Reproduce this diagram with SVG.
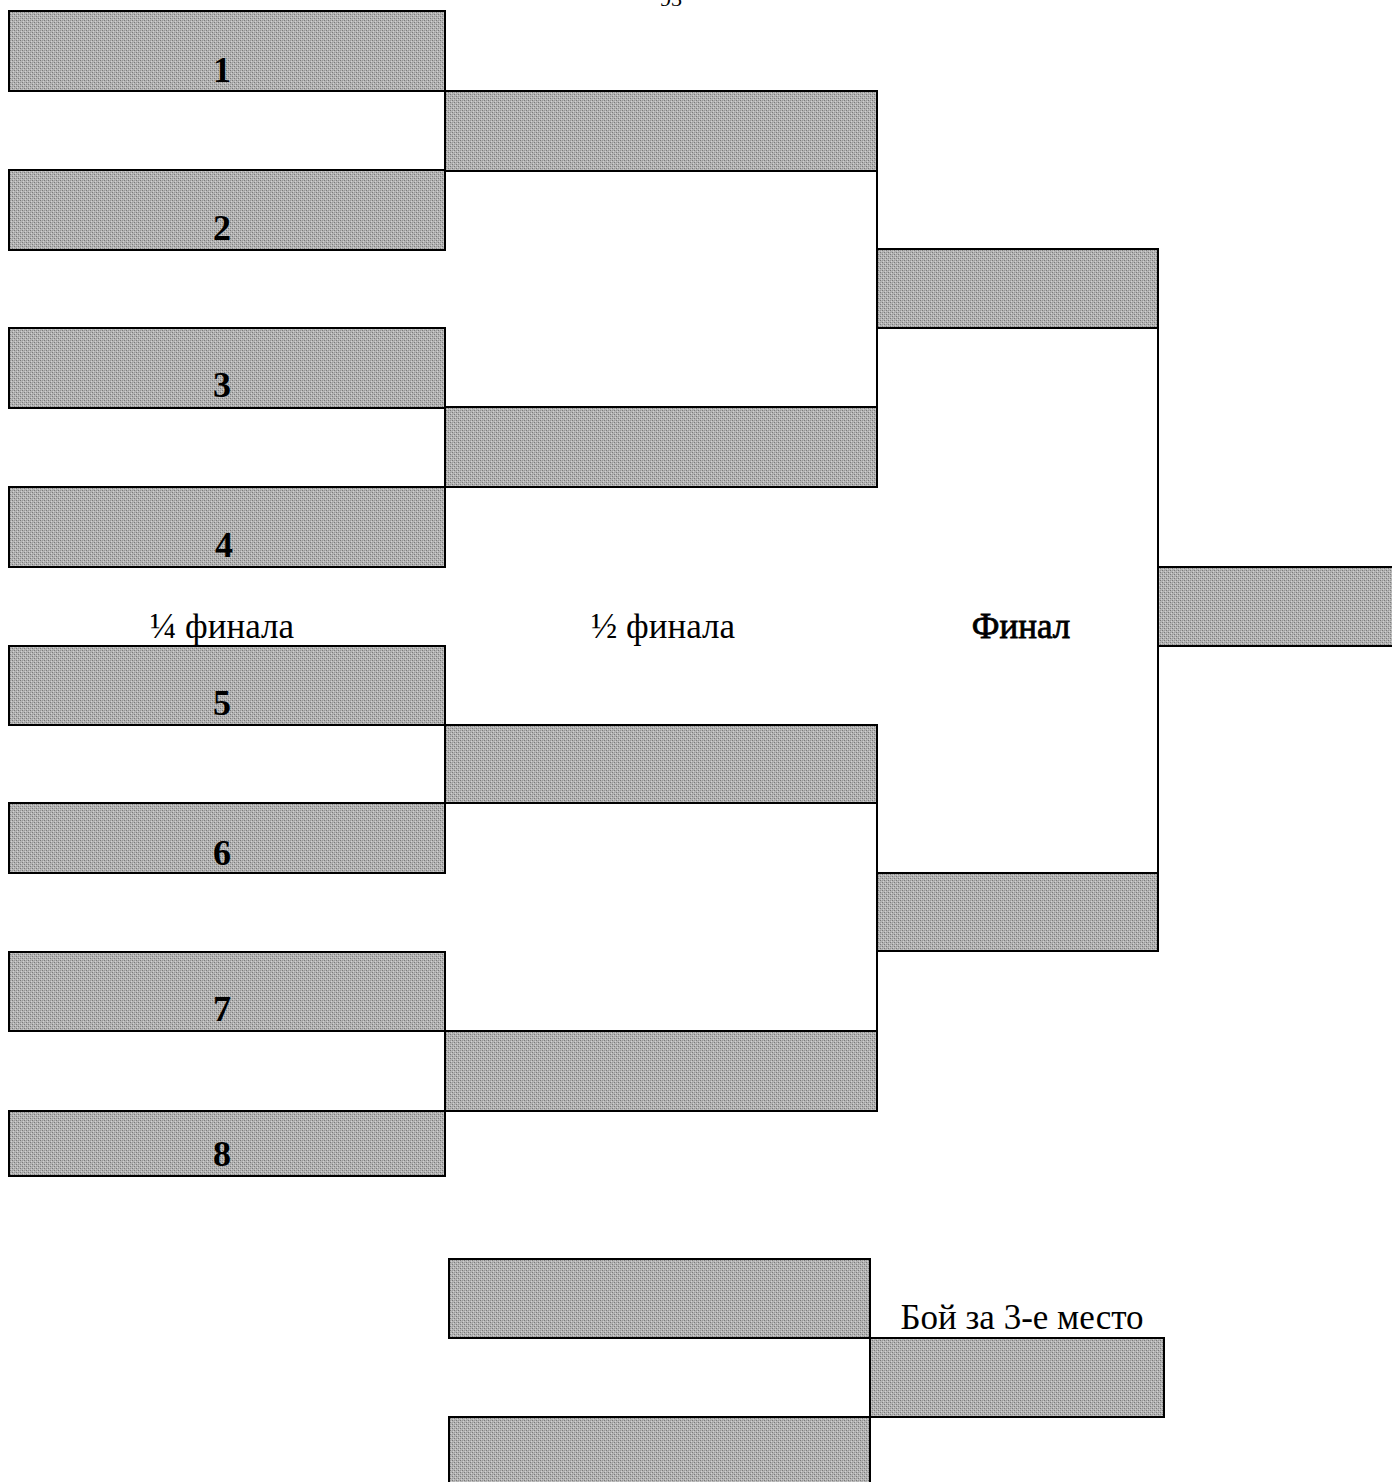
<svg xmlns="http://www.w3.org/2000/svg" width="1392" height="1482" viewBox="0 0 1392 1482">
<style>
.b{fill:url(#tex);stroke:#000;stroke-width:2}
.c{stroke:#000;stroke-width:2;fill:none}
text{font-family:"Liberation Serif","Times New Roman",serif;fill:#000}
.n{font-size:36px;text-anchor:middle;font-weight:bold}
.l{font-size:35px;text-anchor:middle}
</style>
<defs>
<pattern id="tex" width="4" height="4" patternUnits="userSpaceOnUse">
<rect width="4" height="4" fill="#b4b4b4"/>
<rect width="1" height="1" fill="#7a7a7a"/>
<rect x="2" y="2" width="1" height="1" fill="#7a7a7a"/>
<rect x="2" y="0" width="1" height="1" fill="#9a9a9a"/>
<rect x="0" y="2" width="1" height="1" fill="#9a9a9a"/>
<rect x="1" y="3" width="1" height="1" fill="#d0d0d0"/>
<rect x="3" y="1" width="1" height="1" fill="#d0d0d0"/>
</pattern>
</defs>
<rect width="1392" height="1482" fill="#fff"/>
<text x="671" y="6" style="font-size:22px;text-anchor:middle">93</text>

<g id="connectors">
<line class="c" x1="877" y1="171" x2="877" y2="407"/>
<line class="c" x1="877" y1="803" x2="877" y2="1031"/>
<line class="c" x1="1158" y1="328" x2="1158" y2="873"/>
</g>

<g id="q1"><rect class="b" x="9" y="11" width="436" height="80"/><text class="n" x="222" y="82">1</text></g>
<g id="q2"><rect class="b" x="9" y="170" width="436" height="80"/><text class="n" x="222" y="240">2</text></g>
<g id="q3"><rect class="b" x="9" y="328" width="436" height="80"/><text class="n" x="222" y="397">3</text></g>
<g id="q4"><rect class="b" x="9" y="487" width="436" height="80"/><text class="n" x="224" y="557">4</text></g>
<g id="q5"><rect class="b" x="9" y="646" width="436" height="79"/><text class="n" x="222" y="715">5</text></g>
<g id="q6"><rect class="b" x="9" y="803" width="436" height="70"/><text class="n" x="222" y="865">6</text></g>
<g id="q7"><rect class="b" x="9" y="952" width="436" height="79"/><text class="n" x="222" y="1021">7</text></g>
<g id="q8"><rect class="b" x="9" y="1111" width="436" height="65"/><text class="n" x="222" y="1166">8</text></g>

<g id="s1"><rect class="b" x="445" y="91" width="432" height="80"/></g>
<g id="s2"><rect class="b" x="445" y="407" width="432" height="80"/></g>
<g id="s3"><rect class="b" x="445" y="725" width="432" height="78"/></g>
<g id="s4"><rect class="b" x="445" y="1031" width="432" height="80"/></g>

<g id="f1"><rect class="b" x="877" y="249" width="281" height="79"/></g>
<g id="f2"><rect class="b" x="877" y="873" width="281" height="78"/></g>

<g id="winner"><rect class="b" x="1158" y="567" width="240" height="79"/></g>

<g id="t1"><rect class="b" x="449" y="1259" width="421" height="79"/></g>
<g id="t2"><rect class="b" x="449" y="1417" width="421" height="70"/></g>
<g id="t3"><rect class="b" x="870" y="1338" width="294" height="79"/></g>

<g id="labels">
<text class="l" x="222" y="638">¼ финала</text>
<text class="l" x="663" y="638">½ финала</text>
<text class="l" x="1021" y="638" stroke="#000" stroke-width="0.8">Финал</text>
<text class="l" x="1022" y="1329">Бой за 3-е место</text>
</g>
</svg>
